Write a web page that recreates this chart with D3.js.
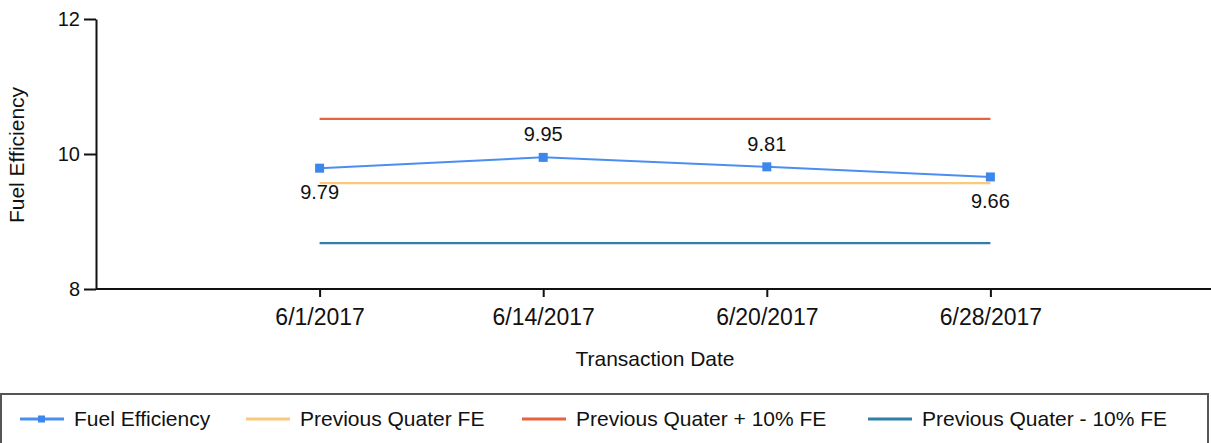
<!DOCTYPE html>
<html>
<head>
<meta charset="utf-8">
<script src="https://cdn.jsdelivr.net/npm/d3@7"></script>
<style>
  html, body { margin: 0; padding: 0; background: #fff; }
  svg { display: block; font-family: "Liberation Sans", Arial, sans-serif; }
</style>
</head>
<body>
<svg id="chart" width="1211" height="443"></svg>
<script>
// ---- data ----
const categories = ["6/1/2017", "6/14/2017", "6/20/2017", "6/28/2017"];
const fuelEfficiency = [9.79, 9.95, 9.81, 9.66];
const labelPlacement = ["below", "above", "above", "below"];
const prevQuarterFE = [9.57, 9.57, 9.57, 9.57];
const prevQuarterPlus10 = [10.52, 10.52, 10.52, 10.52];
const prevQuarterMinus10 = [8.68, 8.68, 8.68, 8.68];
const yTicks = [8, 10, 12];
const seriesNames = ["Fuel Efficiency", "Previous Quater FE", "Previous Quater + 10% FE", "Previous Quater - 10% FE"];
const seriesColors = ["#4a8ff0", "#fbc97c", "#e8623d", "#2f7fa8"];

// ---- layout ----
const svg = d3.select("#chart");
const axisX = 96, topY = 19, bottomY = 289;

const x = d3.scalePoint().domain(categories).range([axisX, 1214]).padding(1);
const y = d3.scaleLinear().domain([8, 12]).range([bottomY, topY]);

// reference lines
const refSeries = [
  { vals: prevQuarterPlus10, color: seriesColors[2] },
  { vals: prevQuarterFE, color: seriesColors[1] },
  { vals: prevQuarterMinus10, color: seriesColors[3] }
];
const lineGen = vals => d3.line()
  .x((d, i) => x(categories[i]))
  .y(d => y(d))(vals);

refSeries.forEach(s => {
  svg.append("path")
    .attr("d", lineGen(s.vals))
    .attr("fill", "none")
    .attr("stroke", s.color)
    .attr("stroke-width", 2.2);
});

// main series
svg.append("path")
  .attr("d", lineGen(fuelEfficiency))
  .attr("fill", "none")
  .attr("stroke", seriesColors[0])
  .attr("stroke-width", 2);

svg.selectAll("rect.marker")
  .data(fuelEfficiency)
  .join("rect")
  .attr("class", "marker")
  .attr("x", (d, i) => x(categories[i]) - 4.5)
  .attr("y", d => y(d) - 4.5)
  .attr("width", 9)
  .attr("height", 9)
  .attr("fill", "#3d86ee");

svg.selectAll("text.dlabel")
  .data(fuelEfficiency)
  .join("text")
  .attr("class", "dlabel")
  .attr("x", (d, i) => x(categories[i]))
  .attr("y", (d, i) => labelPlacement[i] === "above" ? y(d) - 16 : y(d) + 31)
  .attr("text-anchor", "middle")
  .attr("font-size", 20)
  .attr("fill", "#111")
  .text(d => d.toFixed(2));

// axes
const yAxis = svg.append("g")
  .attr("transform", `translate(${axisX},0)`)
  .call(d3.axisLeft(y).tickValues(yTicks).tickSize(12).tickSizeOuter(0).tickPadding(4).tickFormat(d3.format("d")));
yAxis.select(".domain").attr("stroke", "#111").attr("stroke-width", 2);
yAxis.selectAll(".tick line").attr("stroke", "#111").attr("stroke-width", 2);
yAxis.selectAll(".tick text").attr("font-size", 20).attr("fill", "#111").attr("font-family", "Liberation Sans, Arial, sans-serif");

const xAxis = svg.append("g")
  .attr("transform", `translate(0,${bottomY})`)
  .call(d3.axisBottom(x).tickSize(8).tickSizeOuter(0).tickPadding(12));
xAxis.select(".domain").attr("stroke", "#111").attr("stroke-width", 2)
  .attr("d", `M${axisX},0H1211`);
xAxis.selectAll(".tick line").attr("stroke", "#111").attr("stroke-width", 2);
xAxis.selectAll(".tick text").attr("font-size", 23).attr("fill", "#111").attr("font-family", "Liberation Sans, Arial, sans-serif");

// axis titles
svg.append("text")
  .attr("x", 655).attr("y", 366)
  .attr("text-anchor", "middle")
  .attr("font-size", 21)
  .attr("fill", "#111")
  .text("Transaction Date");

svg.append("text")
  .attr("transform", "translate(24,155) rotate(-90)")
  .attr("text-anchor", "middle")
  .attr("font-size", 21)
  .attr("fill", "#111")
  .text("Fuel Efficiency");

// legend
svg.append("rect")
  .attr("x", 1).attr("y", 394)
  .attr("width", 1207).attr("height", 60)
  .attr("fill", "#fff")
  .attr("stroke", "#555")
  .attr("stroke-width", 2);

const legendStarts = [20, 246, 522, 868];
const legend = svg.append("g");
seriesNames.forEach((name, i) => {
  const g = legend.append("g").attr("transform", `translate(${legendStarts[i]},419)`);
  g.append("line").attr("x1", 0).attr("x2", 44).attr("y1", 0).attr("y2", 0)
    .attr("stroke", seriesColors[i]).attr("stroke-width", 3);
  if (i === 0) {
    g.append("rect").attr("x", 18).attr("y", -3.5).attr("width", 7).attr("height", 7).attr("fill", "#3d86ee");
  }
  g.append("text").attr("x", 54).attr("y", 7)
    .attr("font-size", 21).attr("fill", "#111")
    .text(name);
});
</script>
</body>
</html>
